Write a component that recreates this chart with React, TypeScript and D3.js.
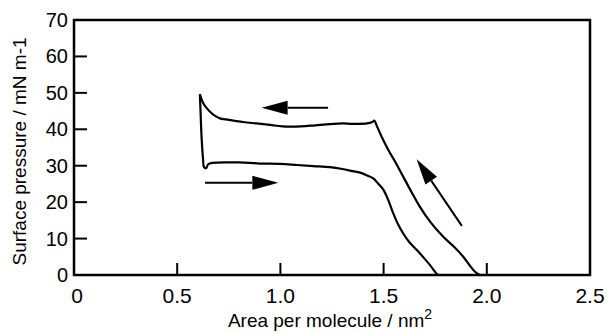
import React, { useEffect, useRef } from 'react';
import * as d3 from 'd3';

// axis ticks
const xTicks = [0, 0.5, 1.0, 1.5, 2.0, 2.5];
const xTickLabels = ['0', '0.5', '1.0', '1.5', '2.0', '2.5'];
const yTicks = [0, 10, 20, 30, 40, 50, 60, 70];

// compression branch (large area -> small area)
const compressionArea = [
  1.967, 1.943, 1.915, 1.886, 1.84, 1.789, 1.73, 1.676, 1.635, 1.595, 1.56, 1.523, 1.49, 1.465, 1.455,
  1.445, 1.42, 1.35, 1.3, 1.24, 1.17, 1.1, 1.01, 0.95, 0.885, 0.82, 0.772, 0.735, 0.707, 0.68, 0.659,
  0.64, 0.627, 0.615, 0.61,
];
const compressionPressure = [
  0, 0.9, 2.8, 5.0, 7.8, 10.5, 14.3, 18.7, 22.8, 27, 30.7, 34.3, 38, 41.2, 42.4,
  42.0, 41.6, 41.5, 41.6, 41.4, 41.1, 40.8, 40.8, 41.2, 41.6, 42.0, 42.4, 42.7, 43.0, 43.8, 44.8,
  46.0, 47.1, 48.7, 49.6,
];

// expansion branch (small area -> large area)
const expansionArea = [
  0.61, 0.613, 0.618, 0.625, 0.63, 0.64, 0.65, 0.67, 0.8, 0.85, 0.9, 1.0, 1.08, 1.16, 1.24, 1.3,
  1.35, 1.386, 1.42, 1.45, 1.475, 1.5, 1.525, 1.547, 1.57, 1.595, 1.625, 1.66, 1.695, 1.725, 1.745,
  1.757, 1.765,
];
const expansionPressure = [
  49.6, 45, 38, 32, 29.6, 29.3, 30.4, 30.8, 30.9, 30.8, 30.6, 30.5, 30.2, 29.9, 29.6, 29.1,
  28.5, 28.1, 27.3, 26.5, 25.0, 23.3, 20.2, 16.9, 13.9, 11.4, 9.0, 6.9, 4.7, 2.7, 1.2,
  0.3, 0,
];

// direction arrows: tail -> tip
const arrowTailArea = [1.231, 0.635, 1.879];
const arrowTailPressure = [45.9, 25.3, 13.5];
const arrowTipArea = [0.909, 0.99, 1.66];
const arrowTipPressure = [45.9, 25.3, 31.8];

const width = 610;
const height = 333;
const margin = { top: 20, right: 20, bottom: 58, left: 74 };

const App: React.FC = () => {
  const ref = useRef<SVGSVGElement>(null);

  useEffect(() => {
    const svg = d3.select(ref.current).attr('width', width).attr('height', height);
    svg.selectAll('*').remove();

    const x = d3.scaleLinear().domain([0, 2.5]).range([margin.left, width - margin.right]);
    const y = d3.scaleLinear().domain([0, 70]).range([height - margin.bottom, margin.top]);

    const font = "'Liberation Sans', Arial, sans-serif";

    // frame
    svg
      .append('rect')
      .attr('x', x(0))
      .attr('y', y(70))
      .attr('width', x(2.5) - x(0))
      .attr('height', y(0) - y(70))
      .attr('fill', 'none')
      .attr('stroke', '#000')
      .attr('stroke-width', 2.5);

    // inward ticks
    svg
      .append('g')
      .selectAll('line')
      .data(xTicks.slice(1, -1))
      .join('line')
      .attr('x1', (d) => x(d))
      .attr('x2', (d) => x(d))
      .attr('y1', y(0))
      .attr('y2', y(0) - 12)
      .attr('stroke', '#000')
      .attr('stroke-width', 2);

    svg
      .append('g')
      .selectAll('line')
      .data(yTicks.slice(1, -1))
      .join('line')
      .attr('x1', x(0))
      .attr('x2', x(0) + 13)
      .attr('y1', (d) => y(d))
      .attr('y2', (d) => y(d))
      .attr('stroke', '#000')
      .attr('stroke-width', 2);

    // tick labels
    svg
      .append('g')
      .attr('font-family', font)
      .attr('font-size', 21)
      .attr('text-anchor', 'middle')
      .selectAll('text')
      .data(xTicks)
      .join('text')
      .attr('x', (d) => x(d) + (d === 0 ? 3 : 0))
      .attr('y', y(0) + 28)
      .text((_d, i) => xTickLabels[i]);

    svg
      .append('g')
      .attr('font-family', font)
      .attr('font-size', 20)
      .attr('text-anchor', 'end')
      .selectAll('text')
      .data(yTicks)
      .join('text')
      .attr('x', x(0) - 6)
      .attr('y', (d) => y(d) + 7)
      .text((d) => d);

    // axis titles
    const xTitle = svg
      .append('text')
      .attr('font-family', font)
      .attr('font-size', 19)
      .attr('text-anchor', 'middle')
      .attr('x', 330)
      .attr('y', 327);
    xTitle.append('tspan').text('Area per molecule / nm');
    xTitle.append('tspan').attr('font-size', 14).attr('dy', -8).text('2');

    svg
      .append('text')
      .attr('font-family', font)
      .attr('font-size', 19)
      .attr('text-anchor', 'middle')
      .attr('transform', `translate(26, ${(y(0) + y(70)) / 2 + 4}) rotate(-90)`)
      .text('Surface pressure / mN m-1');

    // isotherm curves (centripetal spline keeps the sharp spike without overshoot)
    const line = d3
      .line<[number, number]>()
      .x((d) => x(d[0]))
      .y((d) => y(d[1]))
      .curve(d3.curveCatmullRom.alpha(0.5));

    const compression = compressionArea.map((a, i) => [a, compressionPressure[i]] as [number, number]);
    const expansion = expansionArea.map((a, i) => [a, expansionPressure[i]] as [number, number]);

    svg
      .append('g')
      .selectAll('path')
      .data([compression, expansion])
      .join('path')
      .attr('d', (d) => line(d))
      .attr('fill', 'none')
      .attr('stroke', '#000')
      .attr('stroke-width', 2.2)
      .attr('stroke-linejoin', 'round');

    // arrows
    const headLen = 26;
    const headHalf = 7;
    const arrows = svg.append('g');
    arrowTailArea.forEach((_a, i) => {
      const x0 = x(arrowTailArea[i]);
      const y0 = y(arrowTailPressure[i]);
      const x1 = x(arrowTipArea[i]);
      const y1 = y(arrowTipPressure[i]);
      const len = Math.hypot(x1 - x0, y1 - y0);
      const ux = (x1 - x0) / len;
      const uy = (y1 - y0) / len;
      const bx = x1 - ux * headLen;
      const by = y1 - uy * headLen;
      arrows
        .append('line')
        .attr('x1', x0)
        .attr('y1', y0)
        .attr('x2', bx)
        .attr('y2', by)
        .attr('stroke', '#000')
        .attr('stroke-width', 2);
      arrows
        .append('path')
        .attr(
          'd',
          `M${x1},${y1}L${bx - uy * headHalf},${by + ux * headHalf}L${bx + uy * headHalf},${by - ux * headHalf}Z`
        )
        .attr('fill', '#000');
    });
  }, []);

  return <svg ref={ref} style={{ position: 'absolute', left: 0, top: 0, background: '#fff' }}></svg>;
};

export default App;
